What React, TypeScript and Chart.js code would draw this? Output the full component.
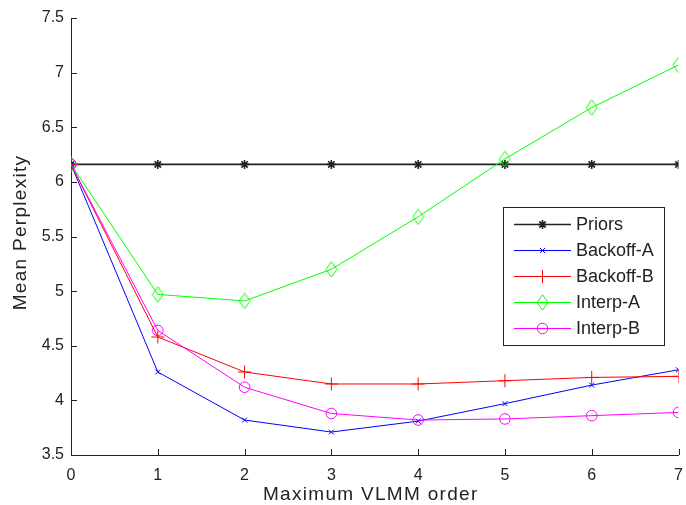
import React, { useEffect, useRef } from "react";
import { Chart, registerables } from "chart.js";
import { drawPoint } from "chart.js/helpers";

Chart.register(...registerables);

const orders = [0, 1, 2, 3, 4, 5, 6, 7];
const priors = [6.16, 6.16, 6.16, 6.16, 6.16, 6.16, 6.16, 6.16];
const backoffA = [6.16, 4.26, 3.82, 3.71, 3.81, 3.97, 4.14, 4.28];
const backoffB = [6.16, 4.58, 4.26, 4.15, 4.15, 4.18, 4.21, 4.22];
const interpA = [6.16, 4.97, 4.91, 5.2, 5.68, 6.21, 6.68, 7.07];
const interpB = [6.16, 4.64, 4.12, 3.88, 3.82, 3.83, 3.86, 3.89];
const yTicks = [3.5, 4, 4.5, 5, 5.5, 6, 6.5, 7, 7.5];
const xTicks = [0, 1, 2, 3, 4, 5, 6, 7];
const xTitle = "Maximum VLMM order";
const yTitle = "Mean Perplexity";

const FONT = "'Liberation Sans', Arial, sans-serif";
const AXIS = "#222";

function makeDiamond(color: string) {
  const c = document.createElement("canvas");
  c.width = 13;
  c.height = 17;
  const g = c.getContext("2d")!;
  g.strokeStyle = color;
  g.lineWidth = 1;
  g.beginPath();
  g.moveTo(6.5, 0.8);
  g.lineTo(12, 8.5);
  g.lineTo(6.5, 16.2);
  g.lineTo(1, 8.5);
  g.closePath();
  g.stroke();
  return c;
}

const inwardTicks = {
  id: "inwardTicks",
  afterDatasetsDraw(chart: any) {
    const { ctx, chartArea, scales } = chart;
    ctx.save();
    ctx.strokeStyle = AXIS;
    ctx.lineWidth = 1;
    ctx.beginPath();
    for (const v of xTicks) {
      const px = Math.round(scales.x.getPixelForValue(v)) + 0.5;
      ctx.moveTo(px, chartArea.bottom);
      ctx.lineTo(px, chartArea.bottom - 6);
    }
    for (const v of yTicks) {
      const py = Math.round(scales.y.getPixelForValue(v)) + 0.5;
      ctx.moveTo(chartArea.left, py);
      ctx.lineTo(chartArea.left + 6, py);
    }
    ctx.stroke();
    ctx.restore();
  },
};

const axisTitles = {
  id: "axisTitles",
  afterDraw(chart: any) {
    const { ctx, chartArea } = chart;
    ctx.save();
    ctx.fillStyle = "#222";
    ctx.font = `19px ${FONT}`;
    (ctx as any).letterSpacing = "1.3px";
    ctx.textAlign = "center";
    ctx.textBaseline = "alphabetic";
    const cx = (chartArea.left + chartArea.right) / 2 - 4;
    ctx.fillText(xTitle, cx, chartArea.bottom + 45);
    ctx.translate(chartArea.left - 45.5, (chartArea.top + chartArea.bottom) / 2 - 4);
    ctx.rotate(-Math.PI / 2);
    ctx.fillText(yTitle, 0, 0);
    ctx.restore();
  },
};

export default function App() {
  const ref = useRef<HTMLCanvasElement>(null);
  useEffect(() => {
    if (!ref.current) return;
    const diamond = makeDiamond("#00ff00");
    const series = [
      { label: "Priors", data: priors, color: "#222", style: "star" as any, r: 4.5, w: 1.6 },
      { label: "Backoff-A", data: backoffA, color: "#0000ff", style: "crossRot" as any, r: 3.5, w: 1 },
      { label: "Backoff-B", data: backoffB, color: "#ff0000", style: "cross" as any, r: 6.5, w: 1 },
      { label: "Interp-A", data: interpA, color: "#00ff00", style: diamond as any, r: 6, w: 1 },
      { label: "Interp-B", data: interpB, color: "#ff00ff", style: "circle" as any, r: 5.3, w: 1 },
    ];
    const legendBox = {
      id: "legendBox",
      afterDraw(chart: any) {
        const { ctx, chartArea } = chart;
        const x0 = Math.round(chartArea.right - 176);
        const y0 = Math.round(chartArea.top + 189);
        const w = 161;
        const h = 138;
        ctx.save();
        ctx.fillStyle = "#fff";
        ctx.fillRect(x0, y0, w, h);
        ctx.strokeStyle = AXIS;
        ctx.lineWidth = 1;
        ctx.strokeRect(x0 + 0.5, y0 + 0.5, w, h);
        ctx.font = `18px ${FONT}`;
        ctx.textBaseline = "middle";
        ctx.textAlign = "left";
        series.forEach((s, i) => {
          const cy = y0 + 17 + i * 26;
          ctx.strokeStyle = s.color;
          ctx.lineWidth = s.w;
          ctx.beginPath();
          ctx.moveTo(x0 + 11, cy + 0.5);
          ctx.lineTo(x0 + 68, cy + 0.5);
          ctx.stroke();
          ctx.fillStyle = "rgba(0,0,0,0)";
          drawPoint(ctx, { pointStyle: s.style, radius: s.r, borderWidth: s.w, rotation: 0 } as any, x0 + 39.5, cy + 0.5);
          ctx.fillStyle = "#222";
          ctx.fillText(s.label, x0 + 73, cy + 1);
        });
        ctx.restore();
      },
    };
    const n = series.length;
    const chart = new Chart(ref.current, {
      type: "line",
      data: {
        labels: orders,
        datasets: series.map((s, i) => ({
          label: s.label,
          data: s.data.map((v, j) => ({ x: orders[j], y: v })),
          borderColor: s.color,
          backgroundColor: "rgba(0,0,0,0)",
          borderWidth: s.w,
          pointStyle: s.style,
          pointRadius: s.r,
          pointBorderColor: s.color,
          pointBackgroundColor: "rgba(0,0,0,0)",
          pointBorderWidth: s.w,
          tension: 0,
          order: n - i,
        })),
      },
      options: {
        animation: false,
        responsive: false,
        devicePixelRatio: 1,
        layout: { padding: { top: 18, right: 0, left: 0, bottom: 0 } },
        plugins: { legend: { display: false }, tooltip: { enabled: false } },
        scales: {
          x: {
            type: "linear",
            min: 0,
            max: 7,
            afterBuildTicks: (s: any) => {
              s.ticks = xTicks.map((v) => ({ value: v }));
            },
            afterFit: (s: any) => {
              s.height = 50;
              s.paddingLeft = 0;
              s.paddingRight = 0;
            },
            grid: { display: false, drawTicks: false },
            border: { display: true, color: AXIS, width: 1 },
            ticks: {
              color: "#222",
              font: { family: FONT, size: 16 },
              padding: 11,
              maxRotation: 0,
              callback: (v: any) => String(v),
            },
          },
          y: {
            type: "linear",
            min: 3.5,
            max: 7.5,
            afterBuildTicks: (s: any) => {
              s.ticks = yTicks.map((v) => ({ value: v }));
            },
            afterFit: (s: any) => {
              s.width = 71;
              s.paddingTop = 0;
              s.paddingBottom = 0;
            },
            grid: { display: false, drawTicks: false },
            border: { display: true, color: AXIS, width: 1 },
            ticks: {
              color: "#222",
              font: { family: FONT, size: 16 },
              padding: 7,
              callback: (v: any) => String(v),
            },
          },
        },
      },
      plugins: [inwardTicks, axisTitles, legendBox],
    });
    return () => chart.destroy();
  }, []);
  return (
    <div style={{ position: "fixed", left: 0, top: 0, width: 686, height: 505, background: "#fff" }}>
      <canvas ref={ref} width={686} height={505} style={{ width: 686, height: 505 }} />
    </div>
  );
}
